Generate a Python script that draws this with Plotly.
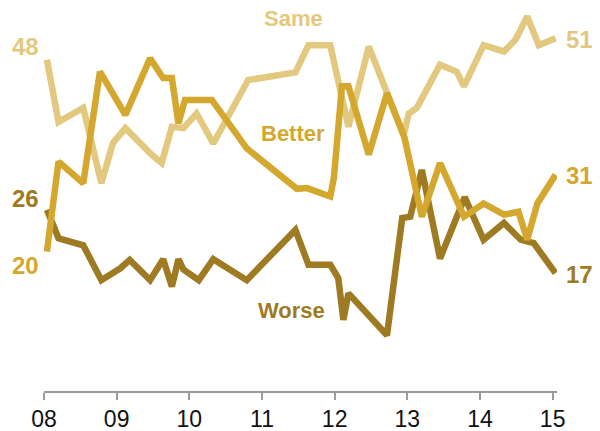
import plotly.graph_objects as go

# ---- data (decimal years, percent) ----
same_x = [2008.04, 2008.20, 2008.54, 2008.79, 2008.95, 2009.12, 2009.48, 2009.62, 2009.76,
          2009.92, 2010.10, 2010.33, 2010.81, 2011.46, 2011.64, 2011.94, 2012.19, 2012.47,
          2012.95, 2013.02, 2013.13, 2013.45, 2013.68, 2013.78, 2014.05, 2014.33, 2014.49,
          2014.65, 2014.81, 2015.04]
same_y = [47.5, 38.6, 40.6, 29.8, 35.6, 37.7, 33.9, 32.7, 37.9,
          37.7, 39.8, 35.5, 44.6, 45.7, 49.6, 49.6, 37.9, 49.4,
          36.7, 39.8, 40.6, 46.8, 45.8, 43.7, 49.6, 48.7, 50.4,
          53.7, 49.6, 50.6]

better_x = [2008.04, 2008.20, 2008.54, 2008.77, 2009.12, 2009.46, 2009.64, 2009.76, 2009.85,
            2009.94, 2010.31, 2010.79, 2011.48, 2011.62, 2011.94, 2011.99, 2012.10, 2012.19,
            2012.47, 2012.72, 2012.96, 2013.20, 2013.45, 2013.78, 2014.05, 2014.33, 2014.53,
            2014.65, 2014.79, 2015.04]
better_y = [20.0, 32.9, 29.8, 45.8, 39.6, 47.7, 44.9, 44.9, 38.4,
            41.75, 41.75, 34.8, 29.0, 29.1, 27.9, 30.6, 43.7, 43.7,
            33.9, 42.7, 36.4, 25.0, 32.7, 25.0, 26.9, 25.3, 25.7,
            21.7, 26.9, 31.0]

worse_x = [2008.04, 2008.20, 2008.54, 2008.79, 2009.05, 2009.18, 2009.46, 2009.64, 2009.76,
           2009.85, 2009.92, 2010.13, 2010.33, 2010.79, 2011.46, 2011.64, 2011.94, 2012.05,
           2012.12, 2012.19, 2012.72, 2012.93, 2013.04, 2013.20, 2013.45, 2013.79, 2014.05,
           2014.33, 2014.56, 2014.74, 2015.04]
worse_y = [26.0, 21.9, 20.9, 15.9, 17.6, 18.8, 15.9, 18.9, 15.0,
           18.9, 17.4, 15.9, 18.9, 15.9, 23.1, 18.1, 18.1, 16.2,
           10.2, 14.0, 8.0, 24.8, 25.0, 31.7, 19.0, 27.8, 21.7,
           24.1, 21.7, 21.2, 16.9]

start_labels = ["48", "20", "26"]
end_labels = ["51", "31", "17"]
series_names = ["Same", "Better", "Worse"]
tick_vals = [2008, 2009, 2010, 2011, 2012, 2013, 2014, 2015]
tick_text = ["08", "09", "10", "11", "12", "13", "14", "15"]

C_SAME = "#E2C97F"
C_BETTER = "#D4A72E"
C_WORSE = "#9E7B23"
FONT = "Liberation Sans, Arial, sans-serif"

fig = go.Figure()
series = [
    (same_x, same_y, C_SAME),
    (worse_x, worse_y, C_WORSE),
    (better_x, better_y, C_BETTER),
]
for xs, ys, c in series:
    fig.add_trace(go.Scatter(x=xs, y=ys, mode="lines",
                             line=dict(color=c, width=6.5),
                             hoverinfo="skip", showlegend=False))

num_font = dict(family=FONT, size=24)
anns = []
ordered = [(same_x, same_y, C_SAME), (better_x, better_y, C_BETTER), (worse_x, worse_y, C_WORSE)]
# start labels (left)
for (xs, ys, c), lab, ysh in zip(ordered, start_labels, [13, -14, 11]):
    anns.append(dict(x=xs[0], y=ys[0], text=f"<b>{lab}</b>", showarrow=False,
                     xanchor="right", yanchor="middle", xshift=-6, yshift=ysh,
                     font=dict(color=c, **num_font)))
# end labels (right)
for (xs, ys, c), lab in zip(ordered, end_labels):
    anns.append(dict(x=xs[-1], y=ys[-1], text=f"<b>{lab}</b>", showarrow=False,
                     xanchor="left", yanchor="middle", xshift=8, yshift=-1,
                     font=dict(color=c, **num_font)))
# series names
for name, c, nx, ny in zip(series_names, [C_SAME, C_BETTER, C_WORSE],
                           [2011.43, 2011.43, 2011.40], [53.4, 36.9, 11.5]):
    anns.append(dict(x=nx, y=ny, text=f"<b>{name}</b>", showarrow=False,
                     xanchor="center", yanchor="middle",
                     font=dict(color=c, family=FONT, size=22)))

fig.update_layout(
    width=600, height=431,
    margin=dict(l=44, r=43, t=11, b=40),
    plot_bgcolor="white", paper_bgcolor="white",
    annotations=anns,
    xaxis=dict(range=[2008, 2015.06], tickvals=tick_vals, ticktext=tick_text,
               automargin=False,
               showgrid=False, zeroline=False, showline=True, linecolor="#9a9a9a",
               linewidth=1.5, ticks="outside", ticklen=7, tickcolor="#9a9a9a", tickwidth=1.5,
               tickfont=dict(family=FONT, size=23, color="#111")),
    yaxis=dict(range=[0, 54.5], visible=False, showgrid=False, zeroline=False,
               automargin=False),
)

fig.write_html("out.html", config={"displayModeBar": False},
               post_script="document.body.style.margin='0';document.body.style.overflow='hidden';")
